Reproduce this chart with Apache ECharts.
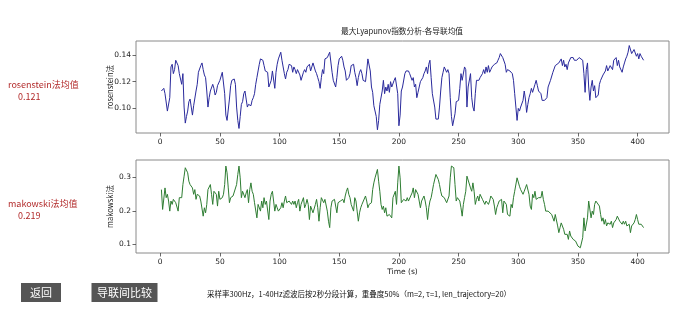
<!DOCTYPE html>
<html><head><meta charset="utf-8">
<script src="https://cdn.jsdelivr.net/npm/echarts@6/dist/echarts.min.js"></script>
<style>html,body{margin:0;padding:0;background:#fff}#c{width:699px;height:327px}</style>
</head><body><div id="c"></div>
<script>
const titleText = '最大Lyapunov指数分析-各导联均值';
const xTicks = [0, 50, 100, 150, 200, 250, 300, 350, 400];
const rosTicks = [0.10, 0.12, 0.14];
const makTicks = [0.1, 0.2, 0.3];
const rosName = 'rosenstein法';
const makName = 'makowski法';
const xName = 'Time (s)';
const rosMeanLabel = 'rosenstein法均值';
const rosMean = '0.121';
const makMeanLabel = 'makowski法均值';
const makMean = '0.219';
const buttons = ['返回', '导联间比较'];
const note = '采样率300Hz，1-40Hz滤波后按2秒分段计算，重叠度50%（m=2, τ=1, len_trajectory=20）';

const rosTime = [
1,2,3,4,5,6,8,9,10,11,
12,13,14,15,16,17,18,19,20,21,
22,23,24,25,26,27,28,30,31,32,
33,34,35,36,37,38,39,40,41,42,
44,45,46,47,48,49,50,52,53,54,
55,56,57,58,59,60,61,62,63,64,
65,66,67,68,69,70,71,72,73,74,
76,77,78,79,80,81,82,83,84,86,
87,88,89,90,91,92,93,94,96,97,
98,99,101,102,103,104,105,106,107,108,
110,111,112,113,114,115,116,117,118,120,
121,122,123,124,125,126,127,128,130,131,
132,133,134,135,136,137,138,140,141,142,
143,144,145,146,147,148,149,150,152,153,
154,155,156,157,158,159,160,162,163,164,
165,166,167,168,169,170,172,173,174,175,
176,177,178,179,181,182,183,184,186,187,
188,189,190,191,192,193,194,196,197,198,
199,200,201,202,203,204,205,206,207,208,
209,211,212,213,214,215,216,217,218,220,
221,222,223,224,225,226,227,228,230,231,
232,233,234,235,236,237,238,240,241,242,
243,244,245,246,247,248,250,251,252,253,
254,255,256,257,258,260,261,262,263,264,
265,266,267,268,270,271,272,273,274,275,
276,277,278,280,281,282,283,284,285,286,
287,289,290,291,292,293,295,296,297,298,
299,300,301,302,304,305,306,307,308,309,
310,311,312,314,315,316,317,318,319,320,
321,322,324,325,326,327,328,329,330,331,
332,334,335,336,337,338,339,340,341,342,
344,345,346,347,348,349,350,351,352,354,
355,356,357,358,359,360,361,362,363,364,
365,367,368,369,370,371,372,373,374,375,
377,378,379,380,381,382,383,384,385,387,
388,389,390,391,392,393,394,395,397,398,
399,400,401,402,403,404,405];
const rosValue = [
0.113,0.114,0.115,0.111,0.112,0.098,0.108,0.131,0.133,0.126,
0.129,0.136,0.136,0.132,0.126,0.127,0.118,0.126,0.101,0.089,
0.094,0.098,0.105,0.107,0.101,0.095,0.102,0.113,0.118,0.127,
0.128,0.132,0.134,0.129,0.125,0.123,0.113,0.101,0.108,0.113,
0.118,0.115,0.110,0.112,0.117,0.118,0.121,0.127,0.126,0.111,
0.095,0.091,0.092,0.107,0.117,0.121,0.122,0.122,0.118,0.101,
0.091,0.085,0.094,0.103,0.105,0.111,0.113,0.107,0.101,0.103,
0.102,0.106,0.108,0.111,0.118,0.123,0.128,0.133,0.137,0.136,
0.132,0.128,0.129,0.127,0.116,0.115,0.121,0.128,0.115,0.127,
0.133,0.137,0.142,0.136,0.131,0.126,0.122,0.127,0.129,0.133,
0.132,0.127,0.131,0.129,0.126,0.129,0.128,0.125,0.121,0.127,
0.129,0.127,0.131,0.132,0.133,0.128,0.131,0.134,0.128,0.126,
0.123,0.120,0.115,0.123,0.129,0.126,0.137,0.138,0.137,0.142,
0.141,0.127,0.121,0.121,0.116,0.123,0.132,0.137,0.139,0.136,
0.131,0.128,0.121,0.120,0.123,0.126,0.132,0.133,0.127,0.123,
0.117,0.123,0.127,0.129,0.126,0.121,0.120,0.128,0.137,0.136,
0.128,0.116,0.112,0.102,0.094,0.084,0.091,0.103,0.113,0.121,
0.111,0.116,0.113,0.118,0.112,0.120,0.116,0.121,0.123,0.122,
0.111,0.087,0.095,0.113,0.116,0.117,0.126,0.128,0.129,0.128,
0.126,0.121,0.123,0.116,0.118,0.108,0.112,0.113,0.120,0.123,
0.126,0.128,0.131,0.126,0.133,0.136,0.123,0.111,0.101,0.092,
0.091,0.092,0.101,0.113,0.123,0.127,0.131,0.127,0.129,0.126,
0.108,0.094,0.087,0.086,0.096,0.105,0.106,0.115,0.126,0.121,
0.122,0.131,0.129,0.101,0.116,0.126,0.108,0.101,0.098,0.111,
0.121,0.122,0.121,0.123,0.126,0.129,0.126,0.131,0.127,0.132,
0.127,0.129,0.131,0.133,0.132,0.134,0.136,0.138,0.141,0.142,
0.138,0.133,0.127,0.129,0.128,0.128,0.126,0.121,0.111,0.101,
0.091,0.100,0.098,0.101,0.106,0.113,0.107,0.097,0.103,0.108,
0.111,0.115,0.112,0.118,0.121,0.117,0.113,0.112,0.111,0.106,
0.105,0.106,0.108,0.116,0.115,0.121,0.122,0.127,0.126,0.132,
0.131,0.134,0.133,0.137,0.132,0.136,0.131,0.133,0.129,0.134,
0.138,0.137,0.138,0.136,0.137,0.136,0.137,0.138,0.139,0.136,
0.126,0.112,0.129,0.134,0.116,0.106,0.116,0.121,0.113,0.117,
0.108,0.110,0.118,0.121,0.122,0.125,0.126,0.128,0.132,0.128,
0.132,0.133,0.129,0.136,0.137,0.138,0.132,0.136,0.131,0.127,
0.131,0.134,0.137,0.139,0.142,0.147,0.146,0.141,0.144,0.143,
0.139,0.141,0.137,0.141,0.139,0.138,0.136];

const makTime = [
1,2,3,4,5,6,7,8,9,10,
11,13,14,15,16,17,18,19,20,21,
23,24,25,26,27,28,29,30,31,33,
34,35,36,37,38,39,40,42,43,44,
45,46,47,48,49,50,52,53,54,55,
56,57,58,59,60,61,62,64,65,66,
67,68,69,71,72,73,74,75,76,77,
78,79,81,82,83,84,85,86,87,88,
89,91,92,93,94,95,96,97,98,99,
101,102,103,104,105,106,107,108,110,111,
112,113,114,115,116,117,118,120,121,122,
123,124,125,126,127,128,130,131,132,133,
134,135,136,137,138,140,141,142,143,144,
145,146,147,148,149,150,151,153,154,155,
156,157,158,159,160,162,163,164,165,166,
167,168,169,170,172,173,174,175,176,177,
178,179,180,182,183,184,185,186,187,188,
189,190,191,192,193,194,195,197,198,199,
200,201,202,203,204,205,206,207,208,209,
211,212,213,214,215,216,217,218,219,221,
222,223,224,225,226,227,228,229,231,232,
233,234,235,236,237,238,239,240,242,243,
244,245,246,247,248,249,251,252,253,254,
255,256,257,258,260,261,262,263,264,265,
266,267,268,270,271,272,273,274,275,276,
277,279,280,281,282,283,284,285,286,287,
288,290,291,292,293,294,295,296,297,299,
300,301,302,303,304,305,306,307,309,310,
311,312,313,314,315,316,317,319,320,321,
322,323,324,325,326,328,329,330,331,332,
333,334,335,336,338,339,340,341,342,343,
344,345,346,348,349,350,351,352,353,354,
355,356,358,359,360,361,362,363,364,365,
366,368,369,370,371,372,373,374,375,377,
378,379,380,381,382,383,384,385,387,388,
389,390,391,392,393,394,395,397,398,399,
400,401,402,403,404,405];
const makValue = [
0.263,0.204,0.209,0.268,0.239,0.249,0.229,0.199,0.229,0.219,
0.234,0.224,0.229,0.199,0.239,0.244,0.239,0.278,0.303,0.328,
0.313,0.288,0.278,0.283,0.268,0.249,0.263,0.234,0.249,0.244,
0.229,0.234,0.184,0.209,0.194,0.219,0.263,0.278,0.249,0.219,
0.258,0.263,0.249,0.214,0.258,0.234,0.239,0.249,0.278,0.333,
0.313,0.268,0.224,0.239,0.239,0.244,0.249,0.278,0.308,0.333,
0.298,0.239,0.258,0.239,0.253,0.263,0.224,0.263,0.283,0.258,
0.249,0.224,0.179,0.219,0.224,0.199,0.229,0.209,0.239,0.219,
0.229,0.174,0.229,0.249,0.258,0.229,0.199,0.219,0.209,0.199,
0.209,0.224,0.209,0.229,0.244,0.224,0.219,0.229,0.219,0.229,
0.219,0.229,0.209,0.224,0.234,0.199,0.219,0.239,0.209,0.219,
0.234,0.219,0.174,0.214,0.219,0.194,0.219,0.234,0.209,0.169,
0.209,0.239,0.234,0.224,0.234,0.199,0.169,0.150,0.209,0.229,
0.234,0.234,0.229,0.194,0.224,0.224,0.229,0.234,0.224,0.244,
0.258,0.268,0.249,0.239,0.219,0.199,0.239,0.229,0.199,0.169,
0.194,0.209,0.219,0.219,0.244,0.229,0.209,0.219,0.219,0.224,
0.263,0.283,0.298,0.323,0.288,0.258,0.219,0.204,0.214,0.194,
0.209,0.184,0.179,0.189,0.184,0.179,0.239,0.258,0.219,0.283,
0.333,0.298,0.224,0.224,0.234,0.239,0.229,0.239,0.229,0.229,
0.253,0.268,0.239,0.263,0.263,0.249,0.229,0.209,0.229,0.244,
0.229,0.209,0.174,0.209,0.229,0.239,0.258,0.278,0.308,0.303,
0.293,0.278,0.258,0.244,0.244,0.239,0.244,0.224,0.244,0.298,
0.333,0.338,0.328,0.278,0.229,0.239,0.229,0.209,0.184,0.219,
0.239,0.258,0.303,0.298,0.268,0.258,0.283,0.258,0.219,0.234,
0.244,0.229,0.249,0.234,0.229,0.219,0.229,0.224,0.219,0.229,
0.244,0.234,0.214,0.189,0.209,0.219,0.229,0.229,0.234,0.194,
0.229,0.219,0.189,0.189,0.184,0.219,0.209,0.239,0.258,0.298,
0.298,0.273,0.263,0.258,0.249,0.258,0.268,0.278,0.249,0.214,
0.204,0.249,0.239,0.258,0.234,0.234,0.239,0.239,0.258,0.234,
0.219,0.199,0.194,0.199,0.204,0.189,0.184,0.169,0.189,0.184,
0.155,0.135,0.150,0.164,0.145,0.130,0.125,0.130,0.115,0.140,
0.125,0.120,0.115,0.110,0.105,0.095,0.090,0.090,0.095,0.120,
0.179,0.140,0.179,0.229,0.234,0.179,0.199,0.189,0.219,0.229,
0.229,0.214,0.189,0.169,0.179,0.160,0.174,0.155,0.164,0.160,
0.169,0.150,0.164,0.160,0.174,0.184,0.189,0.169,0.160,0.169,
0.160,0.169,0.155,0.150,0.160,0.135,0.155,0.164,0.174,0.189,
0.174,0.160,0.164,0.160,0.155,0.150];

const FONT = "'DejaVu Sans', 'Noto Sans CJK SC', sans-serif";
const CJK = "'Noto Sans CJK SC', 'DejaVu Sans', sans-serif";
const chart = echarts.init(document.getElementById('c'), null, {renderer: 'canvas'});

function xAxisCfg(gi, withName) {
  return {
    type: 'value', gridIndex: gi, min: -20.3, max: 426.3, position: 'bottom',
    name: withName ? xName : '', nameLocation: 'middle', nameGap: 15, nameMoveOverlap: false,
    nameTextStyle: {fontFamily: FONT, fontSize: 7.5, color: '#222'},
    axisLine: {show: false, onZero: false},
    axisTick: {show: true, length: 3.5, customValues: xTicks, lineStyle: {color: '#444', width: 0.8}},
    axisLabel: {customValues: xTicks, fontFamily: FONT, fontSize: 7.5, color: '#222', margin: 5},
    splitLine: {show: false}
  };
}
function yAxisCfg(gi, min, max, ticks, digits, name) {
  return {
    type: 'value', gridIndex: gi, min: min, max: max, position: 'left',
    name: name, nameLocation: 'middle', nameGap: 22, nameRotate: 90, nameMoveOverlap: false,
    nameTextStyle: {fontFamily: CJK, fontSize: 7.5, color: '#222'},
    axisLine: {show: false, onZero: false},
    axisTick: {show: true, length: 3.5, customValues: ticks, lineStyle: {color: '#444', width: 0.8}},
    axisLabel: {customValues: ticks, formatter: v => Number(v).toFixed(digits), fontFamily: FONT, fontSize: 7.5, color: '#222', margin: 5},
    splitLine: {show: false}
  };
}

const option = {
  backgroundColor: '#ffffff',
  animation: false,
  grid: [
    {left: 136, top: 41, width: 533, height: 92, show: true, borderColor: '#8a8a8a', borderWidth: 1, backgroundColor: 'transparent'},
    {left: 136, top: 160, width: 533, height: 93, show: true, borderColor: '#8a8a8a', borderWidth: 1, backgroundColor: 'transparent'}
  ],
  xAxis: [xAxisCfg(0, false), xAxisCfg(1, true)],
  yAxis: [
    yAxisCfg(0, 0.0816, 0.1504, rosTicks, 2, rosName),
    yAxisCfg(1, 0.0745, 0.351, makTicks, 1, makName)
  ],
  series: [
    {type: 'line', xAxisIndex: 0, yAxisIndex: 0, showSymbol: false, symbol: 'none',
     data: rosTime.map((t, i) => [t, rosValue[i]]),
     lineStyle: {color: '#2a2a9c', width: 1}},
    {type: 'line', xAxisIndex: 1, yAxisIndex: 1, showSymbol: false, symbol: 'none',
     data: makTime.map((t, i) => [t, makValue[i]]),
     lineStyle: {color: '#2e7d32', width: 1}}
  ],
  graphic: [
    {type: 'text', x: 402, y: 31, style: {text: titleText, textAlign: 'center', textVerticalAlign: 'middle', font: '7.7px ' + CJK, fill: '#222'}},
    {type: 'text', x: 8, y: 85, style: {text: rosMeanLabel, textAlign: 'left', textVerticalAlign: 'middle', font: '9px ' + CJK, fill: '#b22a2a'}},
    {type: 'text', x: 18, y: 97, style: {text: rosMean, textAlign: 'left', textVerticalAlign: 'middle', font: '9px ' + CJK, fill: '#b22a2a'}},
    {type: 'text', x: 8, y: 204, style: {text: makMeanLabel, textAlign: 'left', textVerticalAlign: 'middle', font: '9px ' + CJK, fill: '#b22a2a'}},
    {type: 'text', x: 18, y: 216, style: {text: makMean, textAlign: 'left', textVerticalAlign: 'middle', font: '9px ' + CJK, fill: '#b22a2a'}},
    {type: 'rect', shape: {x: 21, y: 283, width: 40, height: 19}, style: {fill: '#555555'}},
    {type: 'text', x: 41, y: 292.5, style: {text: buttons[0], textAlign: 'center', textVerticalAlign: 'middle', font: '11px ' + CJK, fill: '#ffffff'}},
    {type: 'rect', shape: {x: 91.5, y: 283, width: 66, height: 19}, style: {fill: '#555555'}},
    {type: 'text', x: 124.5, y: 292.5, style: {text: buttons[1], textAlign: 'center', textVerticalAlign: 'middle', font: '11px ' + CJK, fill: '#ffffff'}},
    {type: 'text', x: 207, y: 294, style: {text: note, textAlign: 'left', textVerticalAlign: 'middle', font: '7.5px ' + CJK, fill: '#111'}}
  ]
};
chart.setOption(option);
</script>
</body></html>
